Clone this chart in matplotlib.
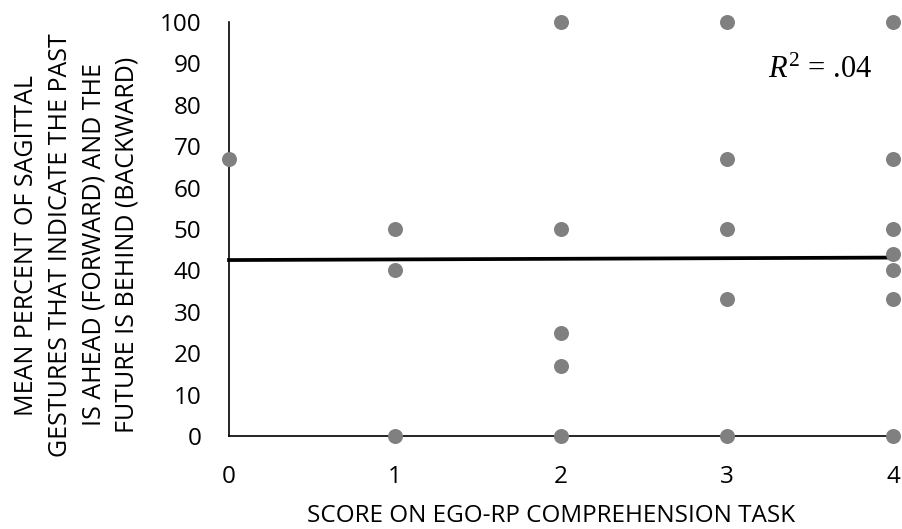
import matplotlib
matplotlib.use("Agg")
import matplotlib.pyplot as plt

plt.rcParams['font.family'] = ['Open Sans', 'DejaVu Sans']
plt.rcParams['mathtext.fontset'] = 'custom'
plt.rcParams['mathtext.it'] = 'Liberation Serif:italic'
plt.rcParams['mathtext.rm'] = 'Liberation Serif'

# comprehension score vs. percent of ego-reference-point gestures
score = [0, 1, 1, 1, 2, 2, 2, 2, 2, 3, 3, 3, 3, 3, 4, 4, 4, 4, 4, 4, 4]
percent = [67, 50, 40, 0, 100, 50, 25, 17, 0, 100, 67, 50, 33, 0,
           100, 67, 50, 44, 40, 33, 0]

# linear trend line end points
trend_x = [0, 4]
trend_y = [42.5, 43.1]

yticks = list(range(0, 101, 10))
xticks = [0, 1, 2, 3, 4]

W, H = 903, 529
fig = plt.figure(figsize=(W / 100, H / 100), dpi=100)
ax = fig.add_axes([229 / W, 93 / H, 664 / W, 414 / H])

ax.plot(trend_x, trend_y, color='black', lw=2.7, zorder=2, clip_on=False)
ax.plot(score, percent, 'o', color='#808080', ms=10.8, mec='none',
        zorder=3, clip_on=False)

ax.set_xlim(0, 4)
ax.set_ylim(0, 100)
ax.set_xticks(xticks)
ax.set_yticks(yticks)
ax.tick_params(length=0, labelsize=17.5, colors='black')
ax.tick_params(axis='x', pad=21)
ax.tick_params(axis='y', pad=20)

for side in ('top', 'right'):
    ax.spines[side].set_visible(False)
for side in ('left', 'bottom'):
    ax.spines[side].set_linewidth(1.2)
    ax.spines[side].set_zorder(1)

# fit statistic, placed in pixel coordinates
fig.text(820 / W, 1 - 70 / H, r'$R^2$ = .04', fontsize=22,
         family='Liberation Serif', ha='center', va='center')

fig.text(551 / W, 1 - 516 / H, 'SCORE ON EGO-RP COMPREHENSION TASK',
         fontsize=17.5, ha='center', va='center')

ylabel = ('MEAN PERCENT OF SAGITTAL\n'
          'GESTURES THAT INDICATE THE PAST\n'
          'IS AHEAD (FORWARD) AND THE\n'
          'FUTURE IS BEHIND (BACKWARD)')
fig.text(77 / W, 1 - 245 / H, ylabel, fontsize=18, rotation=90,
         ha='center', va='center', multialignment='center', linespacing=1.45)

fig.savefig('out.png', dpi=100)
